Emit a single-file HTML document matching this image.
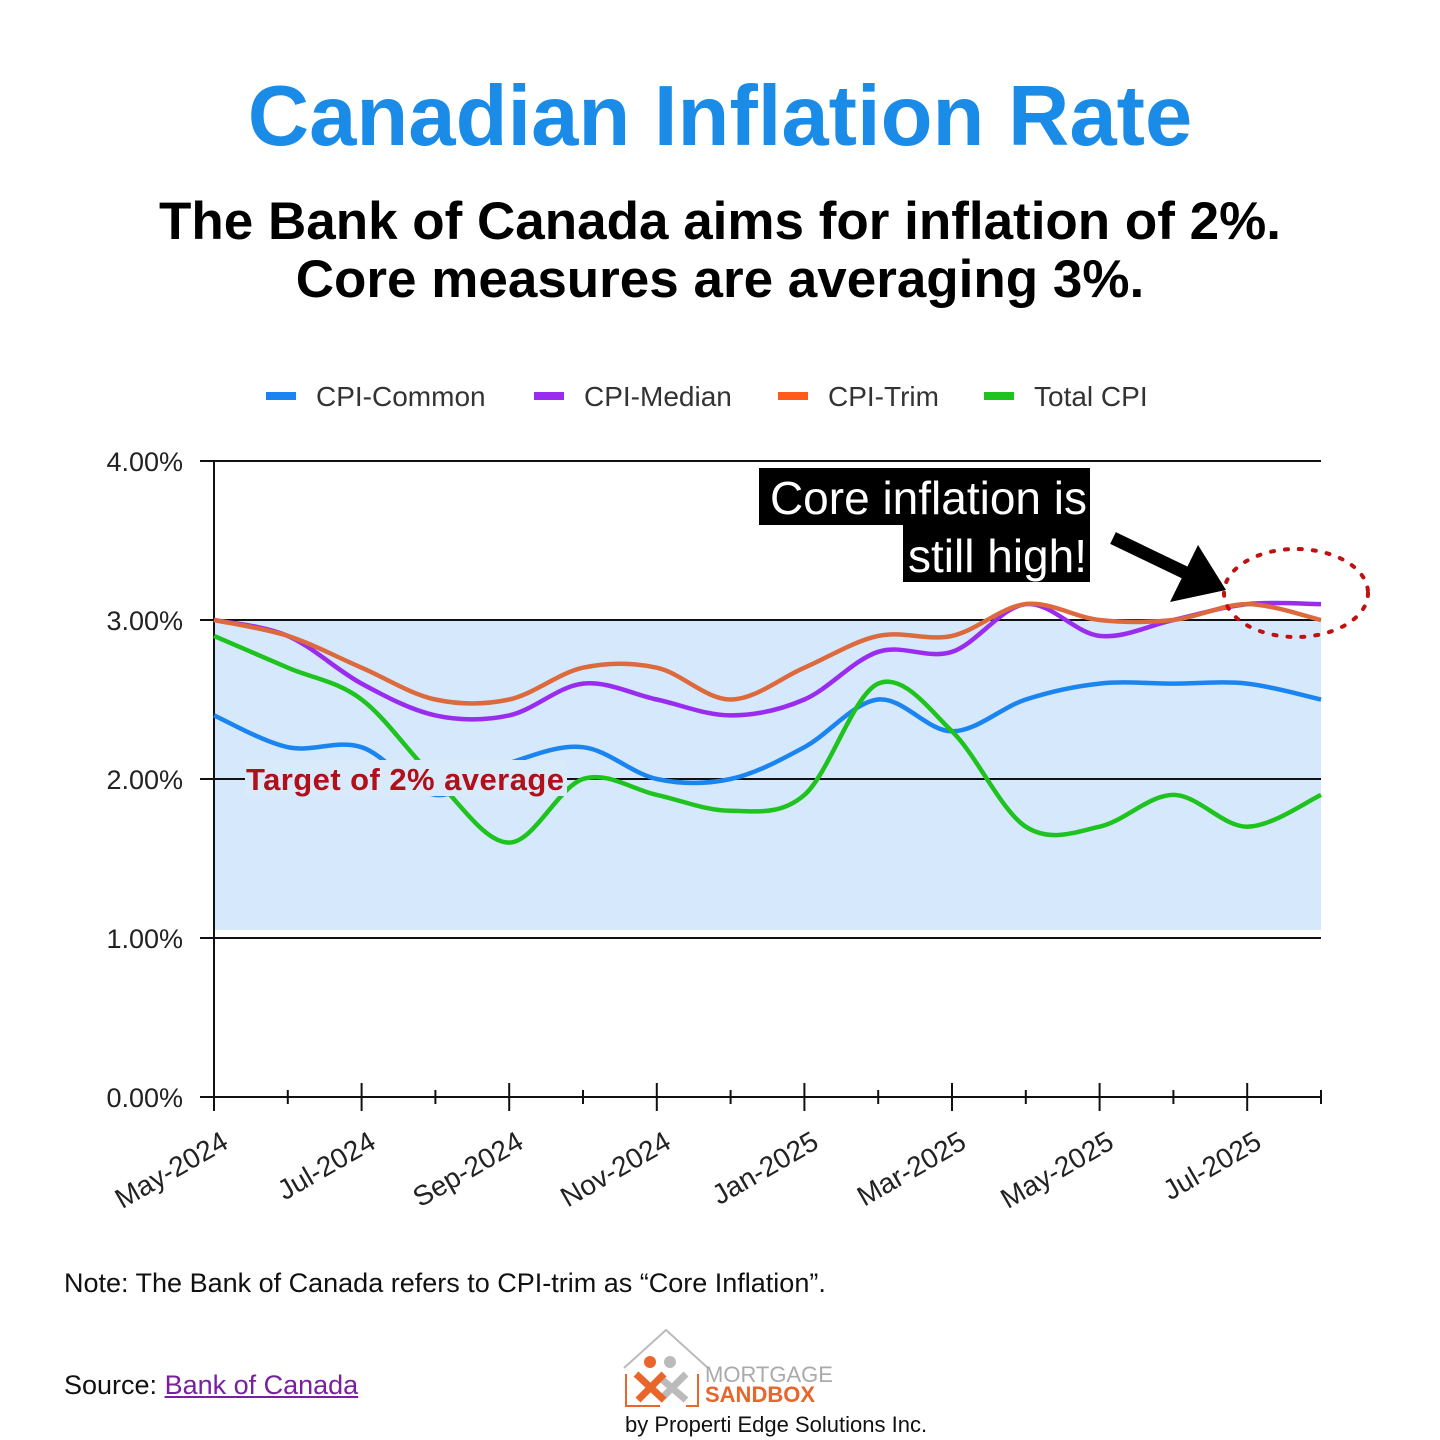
<!DOCTYPE html>
<html><head><meta charset="utf-8">
<style>
body{margin:0;width:1440px;height:1440px;background:#fff;font-family:"Liberation Sans",sans-serif;position:relative;overflow:hidden}
.abs{position:absolute}
</style></head><body>
<div class="abs" style="left:0;width:1440px;top:68px;text-align:center;font-size:85px;font-weight:bold;color:#1a8ce8">Canadian Inflation Rate</div>
<div class="abs" style="left:0;width:1440px;top:193px;text-align:center;font-size:53px;font-weight:bold;color:#000;line-height:58px">The Bank of Canada aims for inflation of 2%.<br>Core measures are averaging 3%.</div>
<svg id="chart" class="abs" style="left:0;top:0" width="1440" height="1440"></svg>
<div class="abs" style="left:64px;top:1268px;font-size:27px;color:#111">Note: The Bank of Canada refers to CPI-trim as “Core Inflation”.</div>
<div class="abs" style="left:64px;top:1370px;font-size:27px;color:#111">Source: <span style="color:#7a1fa2;text-decoration:underline">Bank of Canada</span></div>
<div class="abs" style="left:620px;top:1328px;width:320px;height:112px">
<svg width="320" height="80" style="position:absolute;left:0;top:0">
<polyline points="4,40 46,2 88,40" fill="none" stroke="#bbb" stroke-width="2"/>
<polyline points="6,46 6,78 40,78" fill="none" stroke="#e8662c" stroke-width="2"/>
<polyline points="66,78 78,78 78,46" fill="none" stroke="#e8662c" stroke-width="2"/>
<circle cx="50" cy="34" r="6" fill="#bbb"/><path d="M38,48 L66,72 M66,46 L40,72" stroke="#bbb" stroke-width="7"/>
<circle cx="30" cy="34" r="6" fill="#e8662c"/><path d="M16,46 L44,72 M44,46 L18,72" stroke="#e8662c" stroke-width="7"/>
<text x="85" y="54" font-size="22" fill="#aaa" font-family="Liberation Sans">MORTGAGE</text>
<text x="85" y="74" font-size="22" fill="#e8662c" font-weight="bold" font-family="Liberation Sans">SANDBOX</text>
</svg>
<div style="position:absolute;left:5px;top:84px;font-size:22px;color:#111;white-space:nowrap">by Properti Edge Solutions Inc.</div>
</div>
<script>
const months=["May-2024","Jun-2024","Jul-2024","Aug-2024","Sep-2024","Oct-2024","Nov-2024","Dec-2024","Jan-2025","Feb-2025","Mar-2025","Apr-2025","May-2025","Jun-2025","Jul-2025","Aug-2025"];
const cpiCommon=[2.4,2.2,2.2,1.9,2.1,2.2,2.0,2.0,2.2,2.5,2.3,2.5,2.6,2.6,2.6,2.5];
const cpiMedian=[3.0,2.9,2.6,2.4,2.4,2.6,2.5,2.4,2.5,2.8,2.8,3.1,2.9,3.0,3.1,3.1];
const cpiTrim=[3.0,2.9,2.7,2.5,2.5,2.7,2.7,2.5,2.7,2.9,2.9,3.1,3.0,3.0,3.1,3.0];
const totalCpi=[2.9,2.7,2.5,2.0,1.6,2.0,1.9,1.8,1.9,2.6,2.3,1.7,1.7,1.9,1.7,1.9];
const yTicks=[0,1,2,3,4];
const yLabels=["0.00%","1.00%","2.00%","3.00%","4.00%"];
const bandLow=1.05, bandHigh=3.0;
const svg=document.getElementById('chart');const NS="http://www.w3.org/2000/svg";
const X0=214,X1=1321,Y0=1097,Y4=461;
const x=i=>X0+(X1-X0)*i/(months.length-1);
const y=v=>Y0+(Y4-Y0)*v/4;
function mk(t,a,p){const e=document.createElementNS(NS,t);for(const k in a)e.setAttribute(k,a[k]);(p||svg).appendChild(e);return e;}
let band=mk('rect',{x:X0,y:y(bandHigh),width:X1-X0,height:y(bandLow)-y(bandHigh),fill:'#d6e8fb'});


yTicks.forEach((v,i)=>{
 let g=mk('line',{x1:200,x2:X1,y1:y(v),y2:y(v),stroke:'#111','stroke-width':2});
 
 
 let t=mk('text',{x:183,y:y(v)+10,'text-anchor':'end','font-size':27,fill:'#222'});t.textContent=yLabels[i];
 
 
});
mk('line',{x1:X0,x2:X0,y1:Y4,y2:Y0+10,stroke:'#111','stroke-width':2});
for(let i=0;i<months.length;i++){
 const xx=x(i);mk('line',{x1:xx,x2:xx,y1:Y0-(i%2?7:14),y2:Y0+(i%2?7:14),stroke:'#111','stroke-width':2});
 if(i%2==0&&i<15){let t=mk('text',{x:xx+16,y:Y0+50,'text-anchor':'end','font-size':28,fill:'#222',transform:`rotate(-30 ${xx+16} ${Y0+50})`});t.textContent=months[i];
 
 }
}
function path(d){const p=d.map((v,i)=>[x(i),y(v)]);let s=`M${p[0][0]},${p[0][1]}`;
 for(let i=0;i<p.length-1;i++){const a=p[Math.max(0,i-1)],b=p[i],c=p[i+1],e=p[Math.min(p.length-1,i+2)];
 s+=` C${b[0]+(c[0]-a[0])/6},${b[1]+(c[1]-a[1])/6} ${c[0]-(e[0]-b[0])/6},${c[1]-(e[1]-b[1])/6} ${c[0]},${c[1]}`;}return s;}
const series=[[cpiCommon,'#1a85f0','cpi-common-line'],[totalCpi,'#1ec31e','total-cpi-line'],[cpiMedian,'#9a2cf0','cpi-median-line'],[cpiTrim,'#dd6a3c','cpi-trim-line']];
series.forEach(s=>{let p=mk('path',{d:path(s[0]),fill:'none',stroke:s[1],'stroke-width':4.5});
 
 });
let lb=mk('rect',{x:245,y:760,width:322,height:36,fill:'#d9eafb'});
let tl=mk('text',{x:246,y:790,'font-size':31,'font-weight':'bold',fill:'#b0101a',textLength:318});tl.textContent='Target of 2% average';


const leg=[['CPI-Common','#1a85f0',266],['CPI-Median','#9a2cf0',534],['CPI-Trim','#ff5a1a',778],['Total CPI','#1ec31e',984]];
leg.forEach(l=>{mk('rect',{x:l[2],y:392,width:30,height:8,fill:l[1]});let t=mk('text',{x:l[2]+50,y:406,'font-size':28,fill:'#333'});t.textContent=l[0];
 
 });
mk('rect',{x:759,y:468,width:331,height:57,fill:'#000'});
mk('rect',{x:903,y:525,width:187,height:57,fill:'#000'});
let a1=mk('text',{x:1087,y:514,'text-anchor':'end','font-size':46,fill:'#fff'});a1.textContent='Core inflation is';


let a2=mk('text',{x:1087,y:572,'text-anchor':'end','font-size':46,fill:'#fff'});a2.textContent='still high!';


mk('line',{x1:1113,y1:538,x2:1190,y2:575,stroke:'#000','stroke-width':13});
mk('polygon',{points:'1226,590 1170,602 1198,545',fill:'#000'});
mk('ellipse',{cx:1296,cy:593,rx:72,ry:44,fill:'none',stroke:'#c01010','stroke-width':4,'stroke-dasharray':'3 11','stroke-linecap':'round'});
</script>
</body></html>
